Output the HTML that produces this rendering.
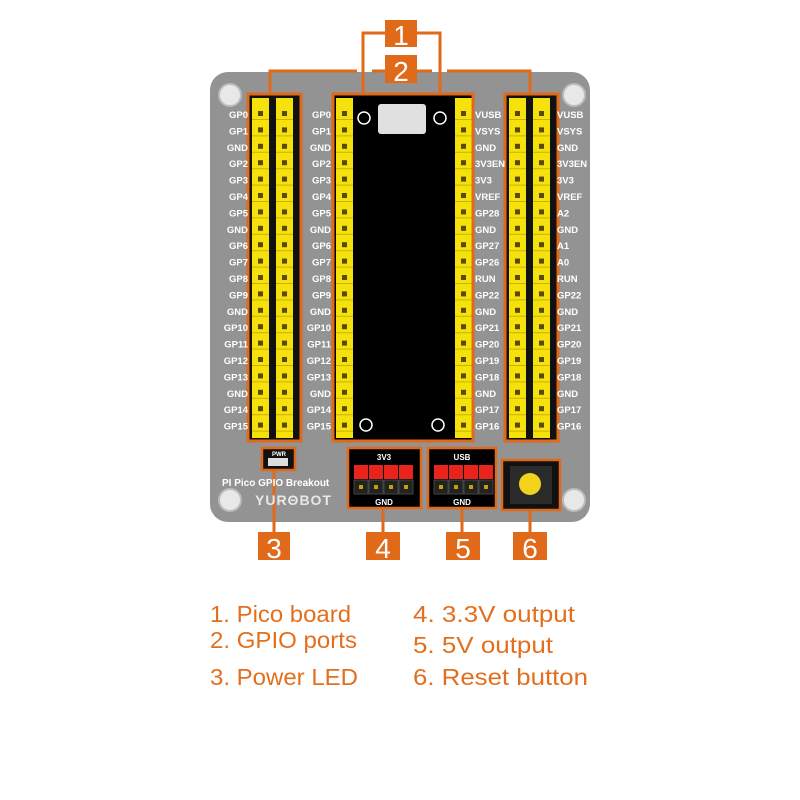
<!DOCTYPE html>
<html><head><meta charset="utf-8"><style>
body{margin:0;background:#fff;width:800px;height:800px;overflow:hidden}
svg{display:block}
.lbl{font-family:"Liberation Sans",sans-serif;font-weight:bold;font-size:9.5px;fill:#fff}
.list{font-family:"Liberation Sans",sans-serif;font-size:23px;fill:#e36f1e}
.num{font-family:"Liberation Sans",sans-serif;font-size:28px;fill:#fff}
</style></head><body>
<svg id="s" width="800" height="800" xmlns="http://www.w3.org/2000/svg">
<rect x="210" y="72" width="380" height="450" rx="18" fill="#939393"/>
<g fill="#e8e8e8" stroke="#bbb" stroke-width="2">
<circle cx="230" cy="95" r="11"/><circle cx="574" cy="95" r="11"/>
<circle cx="230" cy="500" r="11"/><circle cx="574" cy="500" r="11"/>
</g>
<rect x="249" y="95" width="51" height="345" fill="#111"/>
<rect x="506" y="95" width="51" height="345" fill="#111"/>
<rect x="334" y="95" width="138" height="345" fill="#000"/>
<g id="pins"></g>
<rect x="378" y="104" width="48" height="30" rx="3" fill="#e0e0e0"/>
<circle cx="364" cy="118" r="6" fill="none" stroke="#fff" stroke-width="1.5"/>
<circle cx="440" cy="118" r="6" fill="none" stroke="#fff" stroke-width="1.5"/>
<circle cx="366" cy="425" r="6" fill="none" stroke="#fff" stroke-width="1.5"/>
<circle cx="438" cy="425" r="6" fill="none" stroke="#fff" stroke-width="1.5"/>
<g fill="none" stroke="#e06a1a" stroke-width="3">
<rect x="248" y="94" width="53" height="347"/>
<rect x="333" y="94" width="140" height="347"/>
<rect x="505" y="94" width="53" height="347"/>
<polyline points="363,94 363,33 385,33"/><polyline points="417,33 440,33 440,94"/>
<polyline points="270,94 270,71 357,71"/><line x1="372" y1="71" x2="385" y2="71"/>
<line x1="417" y1="71" x2="432" y2="71"/><polyline points="447,71 530,71 530,94"/>
<line x1="274" y1="470" x2="274" y2="532"/><line x1="383" y1="508" x2="383" y2="532"/>
<line x1="462" y1="508" x2="462" y2="532"/><line x1="530" y1="510" x2="530" y2="532"/>
</g>
<g fill="#e06a1a">
<rect x="385" y="20" width="32" height="27"/><rect x="385" y="55" width="32" height="28"/>
<rect x="258" y="532" width="32" height="28"/><rect x="366" y="532" width="34" height="28"/>
<rect x="446" y="532" width="34" height="28"/><rect x="513" y="532" width="34" height="28"/>
</g>
<g class="num" text-anchor="middle">
<text x="401" y="45">1</text><text x="401" y="81">2</text>
<text x="274" y="558">3</text><text x="383" y="558">4</text>
<text x="463" y="558">5</text><text x="530" y="558">6</text>
</g>
<rect x="262" y="448" width="33" height="22" fill="#111" stroke="#e06a1a" stroke-width="2.5"/>
<rect x="268" y="458" width="20" height="8" fill="#ddd"/>
<text x="272" y="456" class="lbl" style="font-size:6px">PWR</text>
<text x="222" y="486" class="lbl" style="font-size:10px">PI Pico GPIO Breakout</text>
<text x="255" y="505" class="lbl" style="font-size:14px;fill:#e8e8e8;letter-spacing:1px">YURΘBOT</text>
<rect x="348" y="448" width="73" height="60" fill="#000" stroke="#e06a1a" stroke-width="2.5"/>
<rect x="428" y="448" width="68" height="60" fill="#000" stroke="#e06a1a" stroke-width="2.5"/>
<rect x="502" y="460" width="58" height="50" fill="#111" stroke="#e06a1a" stroke-width="2.5"/>
<rect x="510" y="466" width="42" height="38" fill="#2a2a2a"/>
<circle cx="530" cy="484" r="11" fill="#f2d21a"/>
<text x="384" y="460" class="lbl" style="font-size:8px" text-anchor="middle">3V3</text>
<text x="462" y="460" class="lbl" style="font-size:8px" text-anchor="middle">USB</text>
<text x="384" y="505" class="lbl" style="font-size:8px" text-anchor="middle">GND</text>
<text x="462" y="505" class="lbl" style="font-size:8px" text-anchor="middle">GND</text>
<g id="hdr"></g>
<g class="list">
<text x="210" y="622" textLength="141" lengthAdjust="spacingAndGlyphs">1. Pico board</text>
<text x="210" y="648" textLength="147" lengthAdjust="spacingAndGlyphs">2. GPIO ports</text>
<text x="210" y="685" textLength="148" lengthAdjust="spacingAndGlyphs">3. Power LED</text>
<text x="413" y="622" textLength="162" lengthAdjust="spacingAndGlyphs">4. 3.3V output</text>
<text x="413" y="653" textLength="140" lengthAdjust="spacingAndGlyphs">5. 5V output</text>
<text x="413" y="685" textLength="175" lengthAdjust="spacingAndGlyphs">6. Reset button</text>
</g>
<g id="labels"></g>
</svg>
<script>
var NS="http://www.w3.org/2000/svg";
function el(p,t,a,txt){var e=document.createElementNS(NS,t);for(var k in a)e.setAttribute(k,a[k]);if(txt)e.textContent=txt;document.getElementById(p).appendChild(e);return e;}
var L=["GP0","GP1","GND","GP2","GP3","GP4","GP5","GND","GP6","GP7","GP8","GP9","GND","GP10","GP11","GP12","GP13","GND","GP14","GP15"];
var R=["VUSB","VSYS","GND","3V3EN","3V3","VREF","GP28","GND","GP27","GP26","RUN","GP22","GND","GP21","GP20","GP19","GP18","GND","GP17","GP16"];
var R2=R.slice();R2[6]="A2";R2[8]="A1";R2[9]="A0";
var cols=[252,276,336,455,509,533];
cols.forEach(function(x){el("pins","rect",{x:x,y:98,width:17,height:340,fill:"#f5e10c"});});
for(var i=0;i<20;i++){var y=118+i*16.4;
cols.forEach(function(x,j){el("pins","rect",{x:x+6,y:y-7,width:5,height:5,fill:"#5a4a00"});
el("pins","line",{x1:x,x2:x+17,y1:y+1.5,y2:y+1.5,stroke:"#c9b300","stroke-width":1});});
el("labels","text",{x:248,y:y,"class":"lbl","text-anchor":"end"},L[i]);
el("labels","text",{x:331,y:y,"class":"lbl","text-anchor":"end"},L[i]);
el("labels","text",{x:475,y:y,"class":"lbl"},R[i]);
el("labels","text",{x:557,y:y,"class":"lbl"},R2[i]);}
[354,434].forEach(function(x0){for(var k=0;k<4;k++){
el("hdr","rect",{x:x0+k*15,y:465,width:14,height:14,fill:"#e8241c"});
el("hdr","rect",{x:x0+k*15,y:480,width:14,height:14,fill:"#222",stroke:"#444"});
el("hdr","rect",{x:x0+k*15+5,y:485,width:4,height:4,fill:"#c9a000"});}});
</script>
</body></html>
